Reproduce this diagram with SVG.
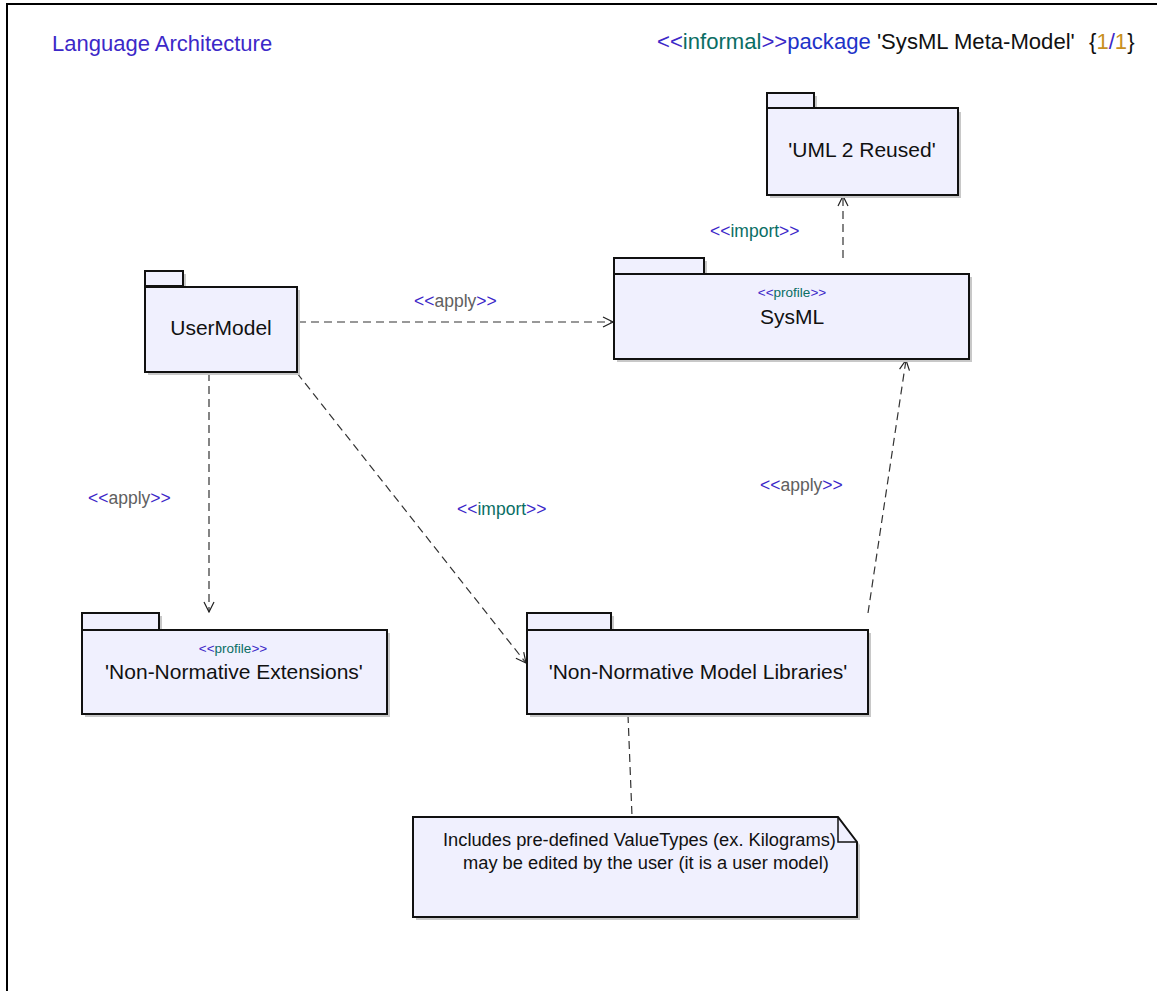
<svg xmlns="http://www.w3.org/2000/svg" width="1157" height="991" viewBox="0 0 1157 991">
  <defs>
    <style>
      text { font-family: "Liberation Sans", Arial, sans-serif; }
      .pkg { fill: #f0f0fe; stroke: #111; stroke-width: 2; }
      .shadow { fill: #c8c8c8; }
      .name { font-size: 21px; fill: #111; text-anchor: middle; }
      .stereo { font-size: 13.5px; text-anchor: middle; }
      .lbl { font-size: 17.5px; }
      .guil { fill: #3c28c8; }
      .teal { fill: #0a6e64; }
      .grey { fill: #606060; }
      .dep { fill: none; stroke: #333; stroke-width: 1.2; stroke-dasharray: 8 5; }
      .note-text { font-size: 18.3px; fill: #111; }
    </style>
    <marker id="open" viewBox="0 0 12 12" refX="11" refY="6" markerWidth="12" markerHeight="12" markerUnits="userSpaceOnUse" orient="auto">
      <path d="M1,1 L11,6 L1,11" fill="none" stroke="#222" stroke-width="1.2"/>
    </marker>
  </defs>

  <rect width="1157" height="991" fill="#fff"/>

  <!-- diagram frame -->
  <path d="M7,991 V4 H1157" fill="none" stroke="#000" stroke-width="2"/>

  <!-- header -->
  <text x="52" y="51" font-size="22" fill="#3c28c8">Language Architecture</text>
  <text x="657" y="49" font-size="22.1"><tspan class="guil">&lt;&lt;</tspan><tspan class="teal">informal</tspan><tspan class="guil">&gt;&gt;</tspan><tspan fill="#1e32c8">package</tspan><tspan fill="#111"> 'SysML Meta-Model'</tspan><tspan x="1089" fill="#111">{</tspan><tspan fill="#c8901e">1</tspan><tspan fill="#3c28c8">/</tspan><tspan fill="#c8901e">1</tspan><tspan fill="#111">}</tspan></text>

  <!-- connectors -->
  <g id="connectors">
    <line class="dep" x1="843" y1="258" x2="843" y2="196" marker-end="url(#open)"/>
    <line class="dep" x1="298" y1="322" x2="613" y2="322" marker-end="url(#open)"/>
    <line class="dep" x1="209" y1="373" x2="209" y2="612" marker-end="url(#open)"/>
    <line class="dep" x1="297" y1="373" x2="526" y2="663" marker-end="url(#open)"/>
    <line class="dep" x1="868" y1="613" x2="906" y2="360" marker-end="url(#open)"/>
    <line class="dep" x1="628" y1="715" x2="632" y2="816"/>

    <text class="lbl" x="710" y="237"><tspan class="guil">&lt;&lt;</tspan><tspan class="teal">import</tspan><tspan class="guil">&gt;&gt;</tspan></text>
    <text class="lbl" x="414" y="307"><tspan class="guil">&lt;&lt;</tspan><tspan class="grey">apply</tspan><tspan class="guil">&gt;&gt;</tspan></text>
    <text class="lbl" x="88" y="504"><tspan class="guil">&lt;&lt;</tspan><tspan class="grey">apply</tspan><tspan class="guil">&gt;&gt;</tspan></text>
    <text class="lbl" x="457" y="515"><tspan class="guil">&lt;&lt;</tspan><tspan class="teal">import</tspan><tspan class="guil">&gt;&gt;</tspan></text>
    <text class="lbl" x="760" y="491"><tspan class="guil">&lt;&lt;</tspan><tspan class="grey">apply</tspan><tspan class="guil">&gt;&gt;</tspan></text>
  </g>

  <!-- 'UML 2 Reused' package -->
  <g id="uml2reused">
    <rect class="shadow" x="770" y="96" width="47" height="15"/>
    <rect class="shadow" x="770" y="112" width="191" height="86"/>
    <rect class="pkg" x="767" y="93" width="47" height="15"/>
    <rect class="pkg" x="767" y="108" width="191" height="87"/>
    <text class="name" x="862" y="157">'UML 2 Reused'</text>
  </g>

  <!-- SysML profile -->
  <g id="sysml">
    <rect class="shadow" x="617" y="261" width="90" height="16"/>
    <rect class="shadow" x="617" y="277" width="355" height="85"/>
    <rect class="pkg" x="614" y="258" width="90" height="16"/>
    <rect class="pkg" x="614" y="274" width="355" height="85"/>
    <text class="stereo" x="792" y="297"><tspan class="guil">&lt;&lt;</tspan><tspan class="teal">profile</tspan><tspan class="guil">&gt;&gt;</tspan></text>
    <text class="name" x="792" y="324">SysML</text>
  </g>

  <!-- UserModel package -->
  <g id="usermodel">
    <rect class="shadow" x="148" y="274" width="38" height="15"/>
    <rect class="shadow" x="148" y="290" width="152" height="85"/>
    <rect class="pkg" x="145" y="271" width="38" height="15"/>
    <rect class="pkg" x="145" y="287" width="152" height="85"/>
    <text class="name" x="221" y="335">UserModel</text>
  </g>

  <!-- 'Non-Normative Extensions' profile -->
  <g id="extensions">
    <rect class="shadow" x="85" y="616" width="77" height="16"/>
    <rect class="shadow" x="85" y="633" width="305" height="84"/>
    <rect class="pkg" x="82" y="613" width="77" height="17"/>
    <rect class="pkg" x="82" y="630" width="305" height="84"/>
    <text class="stereo" x="233" y="653"><tspan class="guil">&lt;&lt;</tspan><tspan class="teal">profile</tspan><tspan class="guil">&gt;&gt;</tspan></text>
    <text class="name" x="234" y="679">'Non-Normative Extensions'</text>
  </g>

  <!-- 'Non-Normative Model Libraries' package -->
  <g id="libraries">
    <rect class="shadow" x="530" y="616" width="84" height="16"/>
    <rect class="shadow" x="530" y="633" width="341" height="84"/>
    <rect class="pkg" x="527" y="613" width="84" height="17"/>
    <rect class="pkg" x="527" y="630" width="341" height="84"/>
    <text class="name" x="698" y="679">'Non-Normative Model Libraries'</text>
  </g>

  <!-- comment note -->
  <g id="note">
    <path class="shadow" d="M416,820 H841 L860,845 V920 H416 Z"/>
    <path class="pkg" d="M413,817 H838 L857,842 V917 H413 Z"/>
    <path d="M838,817 V842 H857" fill="none" stroke="#111" stroke-width="1.5"/>
    <text class="note-text" x="443" y="846">Includes pre-defined ValueTypes (ex. Kilograms)</text>
    <text class="note-text" x="463" y="869">may be edited by the user (it is a user model)</text>
  </g>
</svg>
